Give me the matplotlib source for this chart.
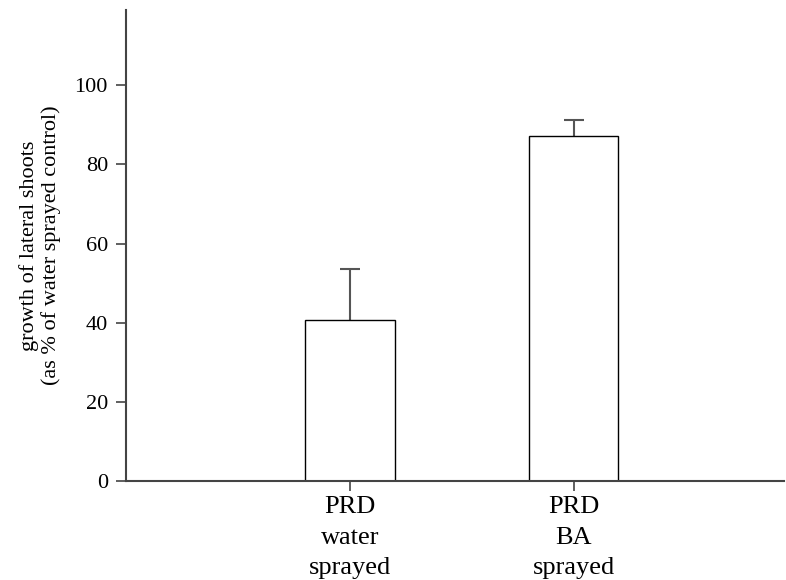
import matplotlib.pyplot as plt

# data
categories = ["PRD\nwater\nsprayed", "PRD\nBA\nsprayed"]
growth = [40.7, 87.1]
err_up = [12.8, 4.1]
positions = [1, 2]

plt.rcParams['font.family'] = ['Liberation Serif', 'DejaVu Serif']

fig = plt.figure(figsize=(7.86, 5.8), dpi=100)
ax = fig.add_axes([0.1603, 0.1707, 0.9975 - 0.1603, 0.9828 - 0.1707])

ax.bar(positions, growth, width=0.40, color="white", edgecolor="black",
       linewidth=1.0, zorder=2)
eb = ax.errorbar(positions, growth, yerr=[[0, 0], err_up], fmt="none",
                 ecolor="#555555", elinewidth=1.5, capsize=7, capthick=1.5,
                 zorder=1)
eb[1][0].set_visible(False)  # only the upper cap is drawn

ax.set_xlim(0, 2.94)
ax.set_ylim(0, 119)
ax.set_yticks([0, 20, 40, 60, 80, 100])
ax.set_xticks(positions)
ax.set_xticklabels(categories, fontsize=19, linespacing=1.5)
ax.tick_params(axis="y", labelsize=16, length=7, width=1.2, color="#444444", pad=6)
ax.tick_params(axis="x", length=7, width=1.2, color="#444444", pad=4)

for side in ["top", "right"]:
    ax.spines[side].set_visible(False)
for side in ["left", "bottom"]:
    ax.spines[side].set_linewidth(1.5)
    ax.spines[side].set_color("#444444")

ax.set_ylabel("growth of lateral shoots\n(as % of water sprayed control)",
              fontsize=16, linespacing=1.15, labelpad=10)

fig.savefig("out.png", dpi=100)
